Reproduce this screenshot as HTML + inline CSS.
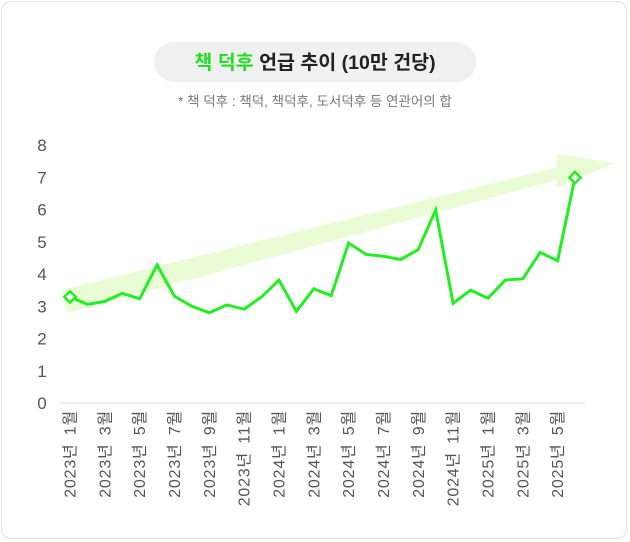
<!DOCTYPE html>
<html><head><meta charset="utf-8">
<style>
html,body{margin:0;padding:0;background:#fff;}
body{width:630px;height:542px;overflow:hidden;font-family:"Liberation Sans","Noto Sans CJK KR",sans-serif;}
.card{position:absolute;left:1px;top:1px;width:626px;height:538px;border:1px solid #e2e2e2;border-radius:10px;box-sizing:border-box;}
</style></head><body>
<div class="card"></div>
<svg id="chart" width="630" height="542" style="position:absolute;left:0;top:0">
  <rect x="154" y="42" width="322" height="40" rx="20" fill="#f0f0f0"/>
  <text x="315" y="69" text-anchor="middle" font-size="19.5" font-weight="bold" fill="#222" font-family="Liberation Sans, Noto Sans CJK KR, sans-serif"><tspan fill="#22dd22">책 덕후</tspan> 언급 추이 (10만 건당)</text>
  <text x="315" y="106" text-anchor="middle" font-size="13.5" fill="#777" font-family="Liberation Sans, Noto Sans CJK KR, sans-serif">* 책 덕후 : 책덕, 책덕후, 도서덕후 등 연관어의 합</text>
  <polygon points="62,290 557,167 557,154 615,163 557,188 557,180 67,313" fill="#eafcd5"/>
  <line x1="60" y1="403" x2="585" y2="403" stroke="#ddd" stroke-width="1"/>
  <g id="yticks"></g>
  <g id="xticks"></g>
  <g id="series"></g>
</svg>
<script>
const months = ["2023년 1월","2023년 2월","2023년 3월","2023년 4월","2023년 5월","2023년 6월","2023년 7월","2023년 8월","2023년 9월","2023년 10월","2023년 11월","2023년 12월","2024년 1월","2024년 2월","2024년 3월","2024년 4월","2024년 5월","2024년 6월","2024년 7월","2024년 8월","2024년 9월","2024년 10월","2024년 11월","2024년 12월","2025년 1월","2025년 2월","2025년 3월","2025년 4월","2025년 5월","2025년 6월"];
const values = [3.29,3.06,3.15,3.40,3.23,4.28,3.31,3.00,2.80,3.04,2.91,3.29,3.81,2.84,3.54,3.33,4.96,4.61,4.55,4.45,4.76,5.98,3.09,3.50,3.25,3.81,3.85,4.67,4.41,6.99];
const yTicks = [0,1,2,3,4,5,6,7,8];
const NS = "http://www.w3.org/2000/svg";
const x = i => 70 + i * (505 / (months.length - 1));
const y = v => 403 - v * 32.25;
const F = "Liberation Sans, Noto Sans CJK KR, sans-serif";
const yg = document.getElementById('yticks');
yTicks.forEach(t => {
  const el = document.createElementNS(NS, 'text');
  
  
  el.setAttribute('x', 42); el.setAttribute('y', y(t) + 6);
  el.setAttribute('text-anchor', 'middle'); el.setAttribute('font-size', '17');
  el.setAttribute('fill', '#555'); el.setAttribute('font-family', F);
  el.textContent = t; yg.appendChild(el);
});
const xg = document.getElementById('xticks');
months.forEach((m, i) => {
  if (i % 2) return;
  const el = document.createElementNS(NS, 'text');
  
  
  const px = x(i) + 5.5, py = 410;
  el.setAttribute('transform', `translate(${px},${py}) rotate(-90)`);
  el.setAttribute('text-anchor', 'end'); el.setAttribute('font-size', '16');
  el.setAttribute('letter-spacing', '0.8');
  el.setAttribute('word-spacing', '3');
  el.setAttribute('fill', '#555'); el.setAttribute('font-family', F);
  el.textContent = m; xg.appendChild(el);
});
const sg = document.getElementById('series');
const line = document.createElementNS(NS, 'polyline');


line.setAttribute('points', values.map((v, i) => `${x(i)},${y(v)}`).join(' '));
line.setAttribute('fill', 'none'); line.setAttribute('stroke', '#22ee22');
line.setAttribute('stroke-width', '3'); line.setAttribute('stroke-linejoin', 'miter');
sg.appendChild(line);
[0, values.length - 1].forEach(i => {
  const d = document.createElementNS(NS, 'rect');
  
  
  const cx = x(i), cy = y(values[i]);
  d.setAttribute('x', cx - 4); d.setAttribute('y', cy - 4);
  d.setAttribute('width', 8); d.setAttribute('height', 8);
  d.setAttribute('transform', `rotate(45 ${cx} ${cy})`);
  d.setAttribute('fill', '#fff'); d.setAttribute('stroke', '#22ee22'); d.setAttribute('stroke-width', '2.5');
  sg.appendChild(d);
});
</script>
</body></html>
